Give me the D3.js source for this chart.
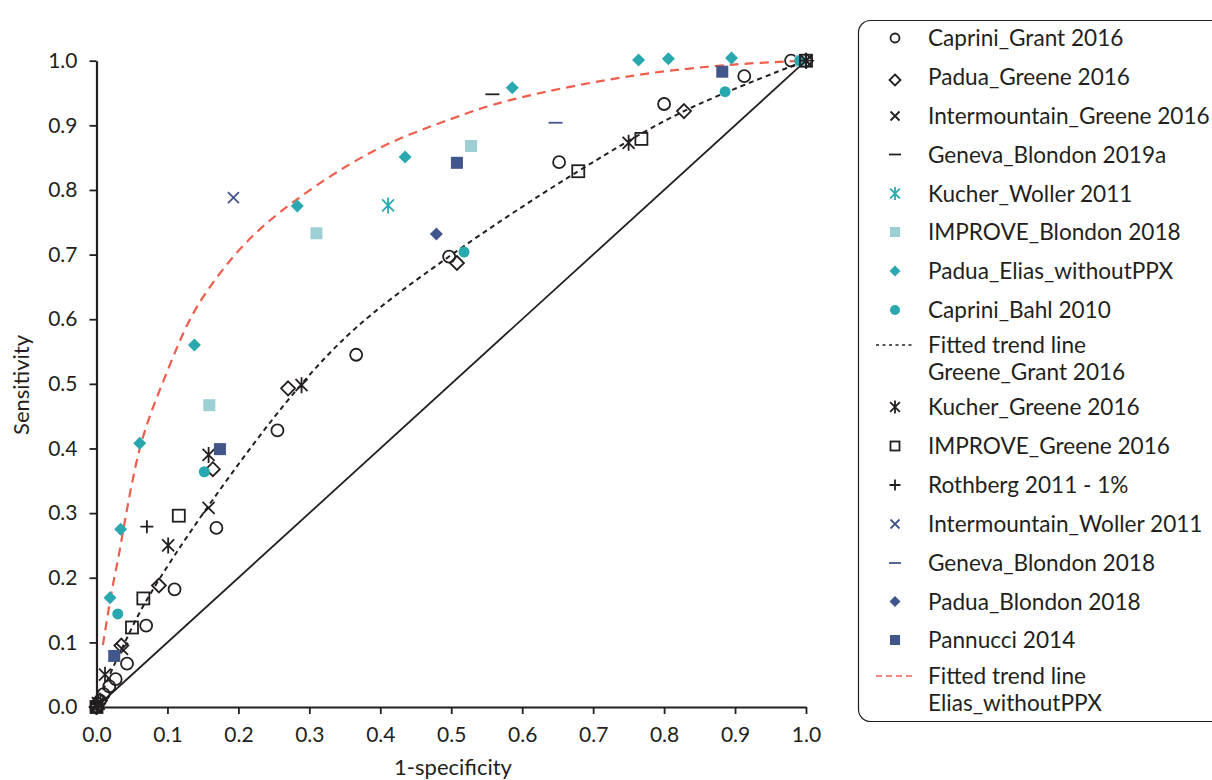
<!DOCTYPE html>
<html><head><meta charset="utf-8">
<script src="https://cdn.jsdelivr.net/npm/d3@7"></script>
<style>
html,body{margin:0;padding:0;background:#fff;}
svg text{font-family:Lato,"Open Sans",sans-serif;fill:#231f20;}
</style></head>
<body>
<svg id="c" width="1212" height="780"></svg>
<script>
// ---- data (1-specificity, sensitivity) ----
const capriniGrant = [[0,0],[0.005,0.01],[0.01,0.02],[0.018,0.032],[0.027,0.043],[0.043,0.067],[0.07,0.126],[0.11,0.182],[0.169,0.277],[0.255,0.428],[0.366,0.545],[0.497,0.697],[0.652,0.843],[0.80,0.933],[0.913,0.976],[0.979,1.0]];
const paduaGreene = [[0,0],[0.005,0.01],[0.035,0.095],[0.088,0.188],[0.164,0.368],[0.27,0.493],[0.508,0.687],[0.828,0.922],[1,1]];
const intermountainGreene = [[0,0],[0.003,0.005],[0.036,0.09],[0.158,0.308],[1,1]];
const genevaBlondon2019a = [[0.558,0.948]];
const kucherWoller = [[0.411,0.776]];
const improveBlondon = [[0.159,0.467],[0.31,0.733],[0.528,0.868],[0.993,1.0]];
const paduaElias = [[0.019,0.169],[0.034,0.275],[0.061,0.408],[0.138,0.56],[0.283,0.775],[0.435,0.851],[0.586,0.958],[0.764,1.001],[0.806,1.003],[0.895,1.004]];
const capriniBahl = [[0.03,0.144],[0.152,0.364],[0.518,0.704],[0.886,0.952],[0.991,1.0]];
const trendGreeneGrant = [[0,0],[0.012,0.033],[0.036,0.091],[0.071,0.166],[0.157,0.31],[0.28,0.488],[0.366,0.587],[0.497,0.697],[0.679,0.829],[0.828,0.922],[1,1]];
const kucherGreene = [[0,0],[0.002,0.006],[0.012,0.05],[0.101,0.25],[0.158,0.39],[0.289,0.498],[0.75,0.873],[1,1]];
const improveGreene = [[0,0],[0.05,0.123],[0.066,0.168],[0.116,0.296],[0.679,0.829],[0.768,0.879],[1,1]];
const rothberg = [[0,0],[0.071,0.279],[1,1]];
const intermountainWoller = [[0.193,0.788]];
const genevaBlondon2018 = [[0.647,0.904]];
const paduaBlondon = [[0.479,0.732]];
const pannucci = [[0.025,0.079],[0.174,0.399],[0.508,0.842],[0.882,0.983]];
const trendElias = [[0.009,0.096],[0.021,0.176],[0.03,0.227],[0.063,0.408],[0.1,0.52],[0.132,0.6],[0.16,0.65],[0.212,0.72],[0.282,0.785],[0.39,0.86],[0.5,0.91],[0.583,0.939],[0.757,0.977],[0.898,0.994],[1,1]];
const diagonal = [[0,0],[1,1]];
const xTicks = [0,0.1,0.2,0.3,0.4,0.5,0.6,0.7,0.8,0.9,1.0];
const yTicks = [0,0.1,0.2,0.3,0.4,0.5,0.6,0.7,0.8,0.9,1.0];
const legendLabels = ["Caprini_Grant 2016","Padua_Greene 2016","Intermountain_Greene 2016","Geneva_Blondon 2019a","Kucher_Woller 2011","IMPROVE_Blondon 2018","Padua_Elias_withoutPPX","Caprini_Bahl 2010",["Fitted trend line","Greene_Grant 2016"],"Kucher_Greene 2016","IMPROVE_Greene 2016","Rothberg 2011 - 1%","Intermountain_Woller 2011","Geneva_Blondon 2018","Padua_Blondon 2018","Pannucci 2014",["Fitted trend line","Elias_withoutPPX"]];

// ---- styling ----
const BLACK="#231f20", TEAL="#29a9af", LIGHT="#9dcfd4", NAVY="#42568b", RED="#ef5d4d";
const svg = d3.select("#c");
const x = d3.scaleLinear().domain([0,1]).range([96.5,806]);
const y = d3.scaleLinear().domain([0,1]).range([707,60.7]);

function mk(g, type, s, color){
  const sw = 1.8;
  if(type==="circleO") g.append("circle").attr("r",s).attr("fill","none").attr("stroke",color).attr("stroke-width",sw);
  else if(type==="circleF") g.append("circle").attr("r",s).attr("fill",color);
  else if(type==="diamondO") g.append("path").attr("d",`M0,${-s}L${s},0L0,${s}L${-s},0Z`).attr("fill","none").attr("stroke",color).attr("stroke-width",sw);
  else if(type==="diamondF") g.append("path").attr("d",`M0,${-s}L${s},0L0,${s}L${-s},0Z`).attr("fill",color);
  else if(type==="squareO") g.append("rect").attr("x",-s).attr("y",-s).attr("width",2*s).attr("height",2*s).attr("fill","none").attr("stroke",color).attr("stroke-width",sw);
  else if(type==="squareF") g.append("rect").attr("x",-s).attr("y",-s).attr("width",2*s).attr("height",2*s).attr("fill",color);
  else if(type==="x") g.append("path").attr("d",`M${-s},${-s}L${s},${s}M${-s},${s}L${s},${-s}`).attr("stroke",color).attr("stroke-width",sw);
  else if(type==="plus") g.append("path").attr("d",`M${-s},0L${s},0M0,${-s}L0,${s}`).attr("stroke",color).attr("stroke-width",sw);
  else if(type==="star") { const d=s*0.75; g.append("path").attr("d",`M${-d},${-d}L${d},${d}M${-d},${d}L${d},${-d}M0,${-s}L0,${s}`).attr("stroke",color).attr("stroke-width",sw); }
  else if(type==="dash") g.append("path").attr("d",`M${-s},0L${s},0`).attr("stroke",color).attr("stroke-width",sw);
}

svg.append("path").attr("d", d3.line().x(d=>x(d[0])).y(d=>y(d[1]))(diagonal)).attr("stroke",BLACK).attr("stroke-width",1.8).attr("fill","none");

const curve = d3.line().x(d=>x(d[0])).y(d=>y(d[1])).curve(d3.curveCatmullRom.alpha(0.5));
svg.append("path").attr("d",curve(trendGreeneGrant)).attr("fill","none").attr("stroke",BLACK).attr("stroke-width",2).attr("stroke-dasharray","5,4");
svg.append("path").attr("d",curve(trendElias)).attr("fill","none").attr("stroke",RED).attr("stroke-width",2.2).attr("stroke-dasharray","9,6");

const series = [
  [capriniGrant,"circleO",6,BLACK],
  [paduaGreene,"diamondO",7,BLACK],
  [intermountainGreene,"x",6,BLACK],
  [genevaBlondon2019a,"dash",7,BLACK],
  [kucherWoller,"star",8,TEAL],
  [improveBlondon,"squareF",6,LIGHT],
  [paduaElias,"diamondF",6.5,TEAL],
  [capriniBahl,"circleF",5.5,TEAL],
  [kucherGreene,"star",8,BLACK],
  [improveGreene,"squareO",6,BLACK],
  [rothberg,"plus",6.5,BLACK],
  [intermountainWoller,"x",5.5,NAVY],
  [genevaBlondon2018,"dash",7,NAVY],
  [paduaBlondon,"diamondF",6.5,NAVY],
  [pannucci,"squareF",6,NAVY]
];
series.forEach(([data,type,s,color])=>{
  svg.append("g").selectAll("g").data(data).join("g")
    .attr("transform",d=>`translate(${x(d[0])},${y(d[1])})`)
    .each(function(){ mk(d3.select(this),type,s,color); });
});

const ax = svg.append("g").attr("transform","translate(0,707)")
  .call(d3.axisBottom(x).tickValues(xTicks).tickFormat(d3.format(".1f")).tickSize(7).tickSizeOuter(0).tickPadding(13));
const ay = svg.append("g").attr("transform","translate(96.5,0)")
  .call(d3.axisLeft(y).tickValues(yTicks).tickFormat(d3.format(".1f")).tickSize(7).tickSizeOuter(0).tickPadding(12));
[ax,ay].forEach(a=>{
  a.select(".domain").attr("stroke",BLACK).attr("stroke-width",2.2);
  a.selectAll(".tick line").attr("stroke",BLACK).attr("stroke-width",1.8);
  a.selectAll(".tick text").attr("font-size",21).attr("font-family","Lato").attr("fill",BLACK);
});
svg.append("text").attr("x",453).attr("y",775).attr("text-anchor","middle").attr("font-size",22).text("1-specificity");
svg.append("text").attr("transform","translate(29,385) rotate(-90)").attr("text-anchor","middle").attr("font-size",22).text("Sensitivity");

svg.append("rect").attr("x",858.5).attr("y",20.5).attr("width",380).attr("height",701).attr("rx",12).attr("fill","none").attr("stroke",BLACK).attr("stroke-width",1.2);
const legSym = [
  ["circleO",4.5,BLACK],["diamondO",5.5,BLACK],["x",4.5,BLACK],["dash",6,BLACK],["star",6.5,TEAL],["squareF",5,LIGHT],["diamondF",5.5,TEAL],["circleF",5,TEAL],
  ["lineDot",0,BLACK],["star",6.5,BLACK],["squareO",4.5,BLACK],["plus",5.5,BLACK],["x",4.5,NAVY],["dash",6,NAVY],["diamondF",5.5,NAVY],["squareF",5,NAVY],["lineRed",0,RED]
];
const rowY = [38,77,116,154.5,193.5,232,271,310,345,407,446,485,524,563,601.5,640,676];
const lg = svg.append("g");
legendLabels.forEach((lab,i)=>{
  const [t,s,c] = legSym[i];
  const cy = rowY[i];
  if(t==="lineDot") lg.append("line").attr("x1",876).attr("x2",913).attr("y1",cy).attr("y2",cy).attr("stroke",c).attr("stroke-width",1.5).attr("stroke-dasharray","3,3.5");
  else if(t==="lineRed") lg.append("line").attr("x1",876).attr("x2",913).attr("y1",cy).attr("y2",cy).attr("stroke",c).attr("stroke-width",1.5).attr("stroke-dasharray","6,4");
  else { const g = lg.append("g").attr("transform",`translate(895,${t==="diamondO"?cy+3:cy})`); mk(g,t,s,c); }
  const lines = Array.isArray(lab)?lab:[lab];
  lines.forEach((l,j)=>{
    lg.append("text").attr("x",928).attr("y",cy+8+j*27).attr("font-size",22.6).text(l);
  });
});
</script>
</body></html>
